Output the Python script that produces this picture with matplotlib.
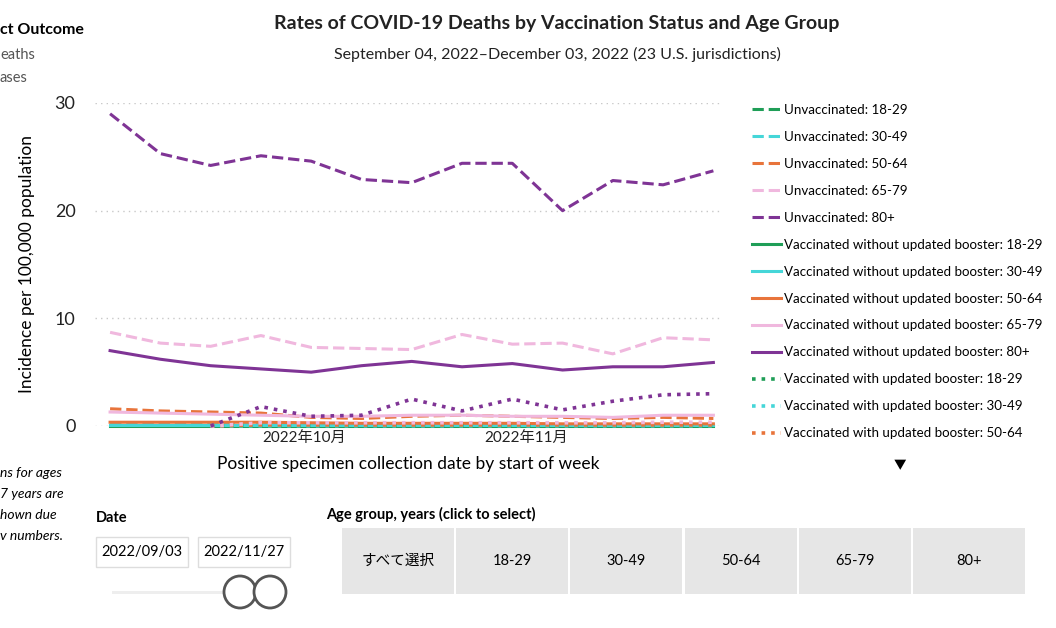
import numpy as np
import pandas as pd
import matplotlib
matplotlib.use("Agg")
import matplotlib.pyplot as plt
from matplotlib.patches import Rectangle, Ellipse

plt.rcParams["font.family"] = ["Lato", "Noto Sans CJK JP", "DejaVu Sans"]

weeks = pd.date_range("2022-09-04", "2022-11-27", freq="7D")
nan = np.nan

# (label, color, style, values)
series = [
    ("Unvaccinated: 18-29", "#1f9e57", "--", [0.05] * 13),
    ("Unvaccinated: 30-49", "#45d6d8", "--", [0.15, 0.15, 0.15, 0.15, 0.1, 0.1, 0.1, 0.1, 0.1, 0.1, 0.1, 0.1, 0.1]),
    ("Unvaccinated: 50-64", "#e8743b", "--", [1.6, 1.4, 1.3, 1.2, 0.8, 0.7, 0.9, 1.0, 0.9, 0.8, 0.7, 0.8, 0.7]),
    ("Unvaccinated: 65-79", "#f0b8de", "--", [8.7, 7.7, 7.4, 8.4, 7.3, 7.2, 7.1, 8.5, 7.6, 7.7, 6.7, 8.2, 8.0]),
    ("Unvaccinated: 80+", "#7f3495", "--", [29.0, 25.3, 24.2, 25.1, 24.6, 22.9, 22.6, 24.4, 24.4, 20.0, 22.8, 22.4, 23.7]),
    ("Vaccinated without updated booster: 18-29", "#1f9e57", "-", [0.02] * 13),
    ("Vaccinated without updated booster: 30-49", "#45d6d8", "-", [0.05] * 13),
    ("Vaccinated without updated booster: 50-64", "#e8743b", "-", [0.35, 0.35, 0.35, 0.35, 0.3, 0.25, 0.25, 0.25, 0.25, 0.2, 0.2, 0.2, 0.2]),
    ("Vaccinated without updated booster: 65-79", "#f0b8de", "-", [1.3, 1.2, 1.1, 1.0, 0.9, 0.9, 1.0, 1.0, 0.9, 0.9, 0.8, 1.0, 1.0]),
    ("Vaccinated without updated booster: 80+", "#7f3495", "-", [7.0, 6.2, 5.6, 5.3, 5.0, 5.6, 6.0, 5.5, 5.8, 5.2, 5.5, 5.5, 5.9]),
    ("Vaccinated with updated booster: 18-29", "#1f9e57", ":", [nan, nan, 0.0, 0.0, 0.0, 0.0, 0.0, 0.0, 0.0, 0.0, 0.0, 0.0, 0.0]),
    ("Vaccinated with updated booster: 30-49", "#45d6d8", ":", [nan, nan, 0.0, 0.02, 0.02, 0.02, 0.02, 0.02, 0.02, 0.02, 0.02, 0.02, 0.02]),
    ("Vaccinated with updated booster: 50-64", "#e8743b", ":", [nan, nan, 0.0, 0.1, 0.1, 0.1, 0.1, 0.1, 0.1, 0.1, 0.1, 0.1, 0.1]),
    ("Vaccinated with updated booster: 65-79", "#f0b8de", ":", [nan, nan, 0.0, 0.3, 0.3, 0.3, 0.3, 0.3, 0.3, 0.3, 0.3, 0.35, 0.35]),
    ("Vaccinated with updated booster: 80+", "#7f3495", ":", [nan, nan, 0.0, 1.8, 0.9, 1.0, 2.5, 1.4, 2.5, 1.5, 2.3, 2.9, 3.0]),
]
legend_count = 13

W, H = 1056, 628
fig = plt.figure(figsize=(W / 100, H / 100), dpi=100)

def px(x0, y0, x1, y1):
    return [x0 / W, 1 - y1 / H, (x1 - x0) / W, (y1 - y0) / H]

ax = fig.add_axes(px(95, 103, 722, 426))
lines = []
for lab, col, ls, vals in series:
    lw = 2.6 if ls == ":" else 2.2
    ln, = ax.plot(weeks, vals, color=col, linestyle=ls, linewidth=lw, clip_on=False)
    lines.append((ln, lab))

ax.set_ylim(0, 30)
ax.set_xlim(weeks[0] - pd.Timedelta(days=2.1), weeks[-1] + pd.Timedelta(days=1.2))
ax.set_yticks([0, 10, 20, 30])
ax.yaxis.grid(True, linestyle=(0, (1, 3)), color="#c8c8c8", linewidth=1)
ax.set_xticks([pd.Timestamp("2022-10-01"), pd.Timestamp("2022-11-01")])
ax.set_xticklabels(["2022年10月", "2022年11月"])
for s in ax.spines.values():
    s.set_visible(False)
ax.tick_params(length=0, labelsize=11, colors="#222222")
ax.tick_params(axis="y", pad=14, labelsize=13)
ax.set_ylabel("Incidence per 100,000 population", fontsize=12.5, labelpad=14)
ax.set_xlabel("Positive specimen collection date by start of week", fontsize=12.5, labelpad=8)

fig.legend([l for l, _ in lines[:legend_count]], [t for _, t in lines[:legend_count]],
           loc="upper left", bbox_to_anchor=(740 / W, 1 - 92 / H), frameon=False,
           fontsize=9.6, handlelength=2.2, handletextpad=0.2, labelspacing=1.12)

fig.text(557 / W, 1 - 24 / H, "Rates of COVID-19 Deaths by Vaccination Status and Age Group",
         ha="center", va="center", fontsize=14, fontweight="bold", color="#222222")
fig.text(557 / W, 1 - 54 / H, "September 04, 2022\u2013December 03, 2022 (23 U.S. jurisdictions)",
         ha="center", va="center", fontsize=11.5, color="#222222")

# surrounding dashboard pieces
fig.text(0, 1 - 30 / H, "ct Outcome", fontsize=11.5, fontweight="bold", va="center")
fig.text(0, 1 - 55 / H, "eaths", fontsize=10.5, color="#555555", va="center")
fig.text(0, 1 - 78 / H, "ases", fontsize=10.5, color="#555555", va="center")
for i, t in enumerate(["ns for ages", "7 years are", "hown due", "v numbers."]):
    fig.text(0, 1 - (473 + 21 * i) / H, t, fontsize=10, style="italic", va="center")
fig.text(900 / W, 1 - 465 / H, "\u25bc", fontsize=9, ha="center", va="center")
fig.text(96 / W, 1 - 518 / H, "Date", fontsize=10.5, fontweight="bold", va="center")
for x0, t in [(96, "2022/09/03"), (198, "2022/11/27")]:
    fig.patches.append(Rectangle((x0 / W, 1 - 567 / H), 92 / W, 30 / H, transform=fig.transFigure,
                                 facecolor="white", edgecolor="#dddddd"))
    fig.text((x0 + 46) / W, 1 - 552 / H, t, fontsize=10.5, ha="center", va="center")
fig.patches.append(Rectangle((112 / W, 1 - 594 / H), 160 / W, 3 / H, transform=fig.transFigure,
                             facecolor="#eeeeee", edgecolor="none"))
for cx in [240, 270]:
    fig.patches.append(Ellipse((cx / W, 1 - 592 / H), 32 / W, 32 / H, transform=fig.transFigure,
                               facecolor="white", edgecolor="#555555", linewidth=2))
fig.text(326 / W, 1 - 514 / H, "Age group, years (click to select)", fontsize=10.5,
         fontweight="bold", va="center")
for i, t in enumerate(["すべて選択", "18-29", "30-49", "50-64", "65-79", "80+"]):
    x0 = 342 + i * 114.2
    fig.patches.append(Rectangle((x0 / W, 1 - 594 / H), 112 / W, 66 / H, transform=fig.transFigure,
                                 facecolor="#e6e6e6", edgecolor="none"))
    fig.text((x0 + 56) / W, 1 - 561 / H, t, fontsize=10.5, ha="center", va="center")

fig.savefig("out.png", dpi=100)
